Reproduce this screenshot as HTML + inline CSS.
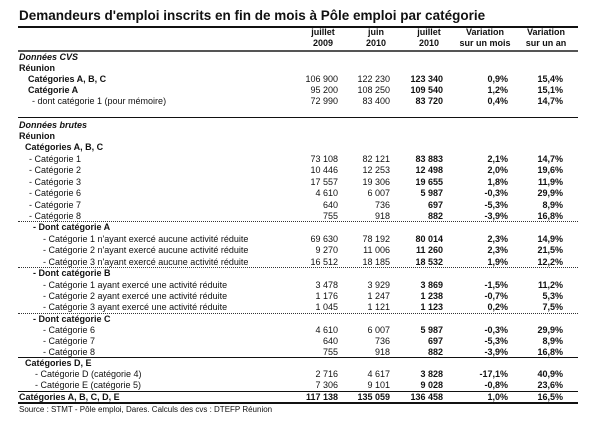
<!DOCTYPE html><html><head><meta charset="utf-8"><style>
body{margin:0;width:600px;height:421px;background:#fff;position:relative;overflow:hidden;font-family:"Liberation Sans",Arial,sans-serif;color:#111}
.t{position:absolute;left:19px;top:8px;font-size:13.5px;font-weight:bold;white-space:nowrap}
.l{position:absolute;left:18px;width:560px;background:#111}
.d{position:absolute;left:18px;width:560px;border-top:1px dotted #333}
.r{position:absolute;left:0;width:600px;height:12px;line-height:12px;font-size:9px;white-space:nowrap}
.r span{position:absolute;top:0}
.r .a{right:262px}.r .b{right:210px}.r .c{right:157px;font-weight:bold}.r .e{right:92px;font-weight:bold}.r .f{right:37px;font-weight:bold}
.bo{font-weight:bold}.it{font-weight:bold;font-style:italic}
.h{position:absolute;font-size:9px;font-weight:bold;text-align:center;line-height:11px;width:80px}
</style></head><body>
<div class="t">Demandeurs d'emploi inscrits en fin de mois à Pôle emploi par catégorie</div>
<div class="l" style="top:26px;height:2px"></div>
<div class="h" style="left:283px;top:27px">juillet<br>2009</div>
<div class="h" style="left:336px;top:27px">juin<br>2010</div>
<div class="h" style="left:389px;top:27px">juillet<br>2010</div>
<div class="h" style="left:445px;top:27px">Variation<br>sur un mois</div>
<div class="h" style="left:506px;top:27px">Variation<br>sur un an</div>
<div class="l" style="top:50px;height:2px;background:#555"></div>

<div class="r" style="top:51px"><span class="it" style="left:19px">Données CVS</span></div>
<div class="r" style="top:62px"><span class="bo" style="left:19px">Réunion</span></div>
<div class="r" style="top:73px"><span class="bo" style="left:28px">Catégories A, B, C</span><span class="a">106 900</span><span class="b">122 230</span><span class="c">123 340</span><span class="e">0,9%</span><span class="f">15,4%</span></div>
<div class="r" style="top:84px"><span class="bo" style="left:28px">Catégorie A</span><span class="a">95 200</span><span class="b">108 250</span><span class="c">109 540</span><span class="e">1,2%</span><span class="f">15,1%</span></div>
<div class="r" style="top:95px"><span style="left:32px">- dont catégorie 1 (pour mémoire)</span><span class="a">72 990</span><span class="b">83 400</span><span class="c">83 720</span><span class="e">0,4%</span><span class="f">14,7%</span></div>
<div class="l" style="top:117px;height:1px"></div>

<div class="r" style="top:119px"><span class="it" style="left:19px">Données brutes</span></div>
<div class="r" style="top:130px"><span class="bo" style="left:19px">Réunion</span></div>
<div class="r" style="top:141px"><span class="bo" style="left:25px">Catégories A, B, C</span></div>
<div class="r" style="top:153px"><span style="left:29px">- Catégorie 1</span><span class="a">73 108</span><span class="b">82 121</span><span class="c">83 883</span><span class="e">2,1%</span><span class="f">14,7%</span></div>
<div class="r" style="top:164px"><span style="left:29px">- Catégorie 2</span><span class="a">10 446</span><span class="b">12 253</span><span class="c">12 498</span><span class="e">2,0%</span><span class="f">19,6%</span></div>
<div class="r" style="top:176px"><span style="left:29px">- Catégorie 3</span><span class="a">17 557</span><span class="b">19 306</span><span class="c">19 655</span><span class="e">1,8%</span><span class="f">11,9%</span></div>
<div class="r" style="top:187px"><span style="left:29px">- Catégorie 6</span><span class="a">4 610</span><span class="b">6 007</span><span class="c">5 987</span><span class="e">-0,3%</span><span class="f">29,9%</span></div>
<div class="r" style="top:199px"><span style="left:29px">- Catégorie 7</span><span class="a">640</span><span class="b">736</span><span class="c">697</span><span class="e">-5,3%</span><span class="f">8,9%</span></div>
<div class="r" style="top:210px"><span style="left:29px">- Catégorie 8</span><span class="a">755</span><span class="b">918</span><span class="c">882</span><span class="e">-3,9%</span><span class="f">16,8%</span></div>
<div class="d" style="top:221px"></div>
<div class="r" style="top:221px"><span class="bo" style="left:33px">- Dont catégorie A</span></div>
<div class="r" style="top:233px"><span style="left:43px">- Catégorie 1 n'ayant exercé aucune activité réduite</span><span class="a">69 630</span><span class="b">78 192</span><span class="c">80 014</span><span class="e">2,3%</span><span class="f">14,9%</span></div>
<div class="r" style="top:244px"><span style="left:43px">- Catégorie 2 n'ayant exercé aucune activité réduite</span><span class="a">9 270</span><span class="b">11 006</span><span class="c">11 260</span><span class="e">2,3%</span><span class="f">21,5%</span></div>
<div class="r" style="top:256px"><span style="left:43px">- Catégorie 3 n'ayant exercé aucune activité réduite</span><span class="a">16 512</span><span class="b">18 185</span><span class="c">18 532</span><span class="e">1,9%</span><span class="f">12,2%</span></div>
<div class="d" style="top:267px"></div>
<div class="r" style="top:267px"><span class="bo" style="left:33px">- Dont catégorie B</span></div>
<div class="r" style="top:279px"><span style="left:43px">- Catégorie 1 ayant exercé une activité réduite</span><span class="a">3 478</span><span class="b">3 929</span><span class="c">3 869</span><span class="e">-1,5%</span><span class="f">11,2%</span></div>
<div class="r" style="top:290px"><span style="left:43px">- Catégorie 2 ayant exercé une activité réduite</span><span class="a">1 176</span><span class="b">1 247</span><span class="c">1 238</span><span class="e">-0,7%</span><span class="f">5,3%</span></div>
<div class="r" style="top:301px"><span style="left:43px">- Catégorie 3 ayant exercé une activité réduite</span><span class="a">1 045</span><span class="b">1 121</span><span class="c">1 123</span><span class="e">0,2%</span><span class="f">7,5%</span></div>
<div class="d" style="top:313px"></div>
<div class="r" style="top:313px"><span class="bo" style="left:33px">- Dont catégorie C</span></div>
<div class="r" style="top:324px"><span style="left:43px">- Catégorie 6</span><span class="a">4 610</span><span class="b">6 007</span><span class="c">5 987</span><span class="e">-0,3%</span><span class="f">29,9%</span></div>
<div class="r" style="top:335px"><span style="left:43px">- Catégorie 7</span><span class="a">640</span><span class="b">736</span><span class="c">697</span><span class="e">-5,3%</span><span class="f">8,9%</span></div>
<div class="r" style="top:346px"><span style="left:43px">- Catégorie 8</span><span class="a">755</span><span class="b">918</span><span class="c">882</span><span class="e">-3,9%</span><span class="f">16,8%</span></div>
<div class="l" style="top:357px;height:1px"></div>
<div class="r" style="top:357px"><span class="bo" style="left:25px">Catégories D, E</span></div>
<div class="r" style="top:368px"><span style="left:35px">- Catégorie D (catégorie 4)</span><span class="a">2 716</span><span class="b">4 617</span><span class="c">3 828</span><span class="e">-17,1%</span><span class="f">40,9%</span></div>
<div class="r" style="top:379px"><span style="left:35px">- Catégorie E (catégorie 5)</span><span class="a">7 306</span><span class="b">9 101</span><span class="c">9 028</span><span class="e">-0,8%</span><span class="f">23,6%</span></div>
<div class="l" style="top:391px;height:1px"></div>
<div class="r bo" style="top:391px"><span style="left:19px">Catégories A, B, C, D, E</span><span class="a">117 138</span><span class="b">135 059</span><span class="c">136 458</span><span class="e">1,0%</span><span class="f">16,5%</span></div>
<div class="l" style="top:402px;height:2px"></div>
<div class="r" style="top:404px;font-size:8px"><span style="left:19px">Source : STMT - Pôle emploi, Dares. Calculs des cvs : DTEFP Réunion</span></div>
</body></html>
